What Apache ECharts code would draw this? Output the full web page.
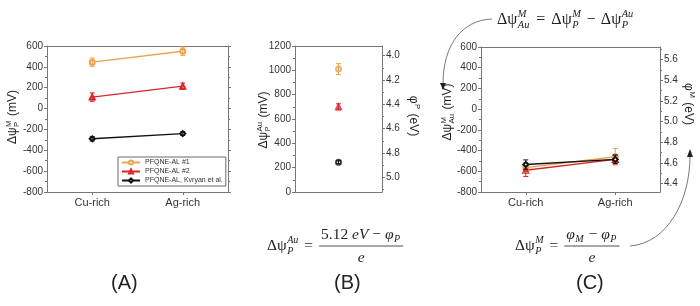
<!DOCTYPE html>
<html>
<head>
<meta charset="utf-8">
<script src="https://cdn.jsdelivr.net/npm/echarts@6/dist/echarts.min.js"></script>
<style>
  html, body { margin: 0; padding: 0; background: #fff; }
  #chart { width: 700px; height: 306px; }
</style>
</head>
<body>
<div id="chart"></div>
<script>
const categories = ['Cu-rich', 'Ag-rich']
const seriesNames = ['PFQNE-AL #1', 'PFQNE-AL #2', 'PFQNE-AL, Kvryan et al.']
const seriesColors = ['#eea24e', '#d8262c', '#111111']
const seriesSymbols = ['emptyCircle', 'emptyTriangle', 'emptyDiamond']

// (A) surface potential vs metal, mV
const psiPM = [[445, 550], [110, 215], [-290, -240]]
const psiPMErr = [[40, 40], [40, 30], [20, 18]]
// (B) surface potential vs Au, mV (one point per sample)
const psiPAu = [1010, 700, 245]
const psiPAuErr = [45, 25, 12]
// (C) metal vs Au, mV
const psiAuM = [[-565, -460], [-590, -485], [-535, -485]]
const psiAuMErr = [[50, 80], [60, 45], [45, 40]]

// right-hand work function axes (eV)
const phiPTicks = [4.0, 4.2, 4.4, 4.6, 4.8, 5.0]
const phiPMinor = [4.1, 4.3, 4.5, 4.7, 4.9, 5.1]
const phiMTicks = [4.4, 4.6, 4.8, 5.0, 5.2, 5.4, 5.6]
const phiMMinor = [4.5, 4.7, 4.9, 5.1, 5.3, 5.5, 5.7]

const fontSans = "'Liberation Sans', Arial, sans-serif"
const fontSerif = "'Liberation Serif', 'DejaVu Serif', serif"
const axLine = { color: '#777', width: 1 }
const tickLabel = { color: '#333', fontSize: 10, fontFamily: fontSans, margin: 4 }

const ctx = document.createElement('canvas').getContext('2d')
const measure = (t, f) => { ctx.font = f; return ctx.measureText(t).width }

function txt (t, x, y, font) {
  return {
    type: 'text', x, y, silent: true,
    style: { text: t, font, fill: '#222', align: 'left', verticalAlign: 'middle', textAlign: 'left', textVerticalAlign: 'middle' }
  }
}

// lays out text with stacked sub/superscripts on one row
function mathRow (parts, size, fam, scriptItalic) {
  const els = []
  let x = 0
  const ss = size * 0.65
  for (const p of parts) {
    if (typeof p === 'number') { x += p; continue }
    if (typeof p === 'string') {
      const f = `${size}px ${fam}`
      els.push(txt(p, x, 0, f)); x += measure(p, f); continue
    }
    if (p.it) {
      const f = `italic ${size}px ${fam}`
      els.push(txt(p.it, x, 0, f)); x += measure(p.it, f); continue
    }
    const f = `${scriptItalic ? 'italic ' : ''}${ss}px ${fam}`
    let w = 0
    if (p.sup) { els.push(txt(p.sup, x + 0.5, -size * 0.36, f)); w = Math.max(w, measure(p.sup, f)) }
    if (p.sub) { els.push(txt(p.sub, x + 0.5, size * 0.32, f)); w = Math.max(w, measure(p.sub, f)) }
    x += w + 1.5
  }
  return { els, width: x }
}

function axisTitle (cx, cy, rot, parts) {
  const r = mathRow(parts, 12, fontSans, false)
  r.els.forEach(e => { e.x -= r.width / 2 })
  return { type: 'group', x: cx, y: cy, rotation: rot, children: r.els }
}

function formula (x, y, left, num, den, size) {
  const els = []
  const L = mathRow(left, size, fontSerif, true)
  L.els.forEach(e => { e.x += x; e.y += y; els.push(e) })
  if (!num) return els
  const N = mathRow(num, size, fontSerif, true)
  const D = mathRow(den, size, fontSerif, true)
  const fw = Math.max(N.width, D.width) + 4
  const fx = x + L.width
  N.els.forEach(e => { e.x += fx + (fw - N.width) / 2; e.y += y - size * 0.74; els.push(e) })
  D.els.forEach(e => { e.x += fx + (fw - D.width) / 2; e.y += y + size * 0.78; els.push(e) })
  els.push({ type: 'line', silent: true, shape: { x1: fx, y1: y, x2: fx + fw, y2: y }, style: { stroke: '#222', lineWidth: 0.8 } })
  return els
}

function errorBar (color) {
  return function (params, api) {
    const x = api.value(0), y = api.value(1), e = api.value(2)
    const hi = api.coord([x, y + e]), lo = api.coord([x, y - e])
    const w = 2.5
    const style = { stroke: color, lineWidth: 1 }
    return {
      type: 'group',
      children: [
        { type: 'line', shape: { x1: hi[0], y1: hi[1], x2: lo[0], y2: lo[1] }, style },
        { type: 'line', shape: { x1: hi[0] - w, y1: hi[1], x2: hi[0] + w, y2: hi[1] }, style },
        { type: 'line', shape: { x1: lo[0] - w, y1: lo[1], x2: lo[0] + w, y2: lo[1] }, style }
      ]
    }
  }
}

const catAxis = (gridIndex, data, position, labels) => ({
  gridIndex, type: 'category', data, position, boundaryGap: true,
  axisLine: { show: true, onZero: false, lineStyle: axLine },
  axisTick: { show: labels, alignWithLabel: true, length: 3, lineStyle: axLine },
  axisLabel: { show: labels, color: '#333', fontSize: 11, fontFamily: fontSans, margin: 5 },
  splitLine: { show: false }
})

const valAxis = (gridIndex, position, min, max, interval, labels) => ({
  gridIndex, type: 'value', position, min, max, interval,
  axisLine: { show: true, onZero: false, lineStyle: axLine },
  axisTick: { show: true, length: 3, lineStyle: axLine },
  minorTick: { show: true, splitNumber: 2, length: 2, lineStyle: axLine },
  axisLabel: { show: labels, ...tickLabel, formatter: v => String(v) },
  splitLine: { show: false }
})

const customAxis = (gridIndex, min, max, inverse, ticks) => ({
  gridIndex, type: 'value', position: 'right', min, max, inverse,
  axisLine: { show: true, onZero: false, lineStyle: axLine },
  axisTick: { show: true, length: 3, lineStyle: axLine, customValues: ticks },
  axisLabel: { show: true, ...tickLabel, customValues: ticks, formatter: v => v.toFixed(1) },
  splitLine: { show: false }
})

const minorAxis = (gridIndex, min, max, inverse, ticks) => ({
  gridIndex, type: 'value', position: 'right', min, max, inverse,
  axisLine: { show: false, onZero: false },
  axisTick: { show: true, length: 2, lineStyle: axLine, customValues: ticks },
  axisLabel: { show: false },
  splitLine: { show: false }
})

const series = []
seriesNames.forEach((name, i) => {
  const color = seriesColors[i]
  // (A)
  series.push({
    name, type: 'line', xAxisIndex: 0, yAxisIndex: 0, data: psiPM[i],
    symbol: seriesSymbols[i], symbolSize: 5, z: 3,
    lineStyle: { color, width: 1.4 }, itemStyle: { color, borderWidth: 1.1 }
  })
  series.push({
    type: 'custom', xAxisIndex: 0, yAxisIndex: 0, z: 4, silent: true,
    data: categories.map((c, j) => [j, psiPM[i][j], psiPMErr[i][j]]),
    renderItem: errorBar(color)
  })
  // (B)
  series.push({
    name: 'B ' + name, type: 'scatter', xAxisIndex: 2, yAxisIndex: 2, data: [psiPAu[i]],
    symbol: i === 2 ? 'emptyCircle' : seriesSymbols[i], symbolSize: 5, z: 3,
    itemStyle: { color, borderWidth: i === 2 ? 1.6 : 1.1 }
  })
  series.push({
    type: 'custom', xAxisIndex: 2, yAxisIndex: 2, z: 4, silent: true,
    data: [[0, psiPAu[i], psiPAuErr[i]]],
    renderItem: errorBar(color)
  })
  // (C)
  series.push({
    name: 'C ' + name, type: 'line', xAxisIndex: 4, yAxisIndex: 5, data: psiAuM[i],
    symbol: seriesSymbols[i], symbolSize: 5, z: 3 + (i === 2 ? 1 : 0),
    lineStyle: { color, width: 1.4 }, itemStyle: { color, borderWidth: 1.1 }
  })
  series.push({
    type: 'custom', xAxisIndex: 4, yAxisIndex: 5, z: 4, silent: true,
    data: categories.map((c, j) => [j, psiAuM[i][j], psiAuMErr[i][j]]),
    renderItem: errorBar(color)
  })
})

const graphics = [
  axisTitle(13, 117, Math.PI / 2, ['Δψ', { sub: 'P', sup: 'M' }, ' (mV)']),
  axisTitle(264, 120, Math.PI / 2, ['Δψ', { sub: 'P', sup: 'Au' }, ' (mV)']),
  axisTitle(413, 116, -Math.PI / 2, ['φ', { sup: 'P' }, ' (eV)']),
  axisTitle(448, 112, Math.PI / 2, ['Δψ', { sub: 'Au', sup: 'M' }, ' (mV)']),
  axisTitle(688, 104, -Math.PI / 2, ['φ', { sup: 'M' }, ' (eV)']),
  ...formula(497, 20, ['Δψ', { sub: 'Au', sup: 'M' }, 6, '=', 6, 'Δψ', { sub: 'P', sup: 'M' }, 5, '−', 5, 'Δψ', { sub: 'P', sup: 'Au' }], null, null, 16),
  ...formula(267, 246, ['Δψ', { sub: 'P', sup: 'Au' }, 5, '=', 6],
    ['5.12 ', { it: 'eV' }, ' − ', { it: 'φ' }, { sub: 'P' }], [{ it: 'e' }], 15.5),
  ...formula(515, 246, ['Δψ', { sub: 'P', sup: 'M' }, 5, '=', 6],
    [{ it: 'φ' }, { sub: 'M' }, ' − ', { it: 'φ' }, { sub: 'P' }], [{ it: 'e' }], 15.5),
  { type: 'bezierCurve', silent: true, shape: { x1: 492, y1: 19, cpx1: 462, cpy1: 20, cpx2: 443, cpy2: 45, x2: 443, y2: 84 }, style: { stroke: '#555', lineWidth: 0.8, fill: null } },
  { type: 'polygon', silent: true, shape: { points: [[440, 83], [446, 83], [443, 90]] }, style: { fill: '#222' } },
  { type: 'bezierCurve', silent: true, shape: { x1: 630, y1: 246, cpx1: 668, cpy1: 243, cpx2: 690, cpy2: 200, x2: 690, y2: 156 }, style: { stroke: '#555', lineWidth: 0.8, fill: null } },
  { type: 'polygon', silent: true, shape: { points: [[687, 157], [693, 157], [690, 149]] }, style: { fill: '#222' } },
  txt('(A)', 111, 283, `20px ${fontSans}`),
  txt('(B)', 334, 283, `20px ${fontSans}`),
  txt('(C)', 576, 283, `20px ${fontSans}`)
]

const chart = echarts.init(document.getElementById('chart'), null, { renderer: 'canvas' })
chart.setOption({
  animation: false,
  backgroundColor: '#fff',
  grid: [
    { left: 47, top: 46, width: 181, height: 146 },
    { left: 295, top: 46, width: 87, height: 146 },
    { left: 481, top: 47, width: 179, height: 145 }
  ],
  xAxis: [
    catAxis(0, categories, 'bottom', true),
    catAxis(0, categories, 'top', false),
    catAxis(1, [''], 'bottom', false),
    catAxis(1, [''], 'top', false),
    catAxis(2, categories, 'bottom', true),
    catAxis(2, categories, 'top', false)
  ],
  yAxis: [
    valAxis(0, 'left', -800, 600, 200, true),
    valAxis(0, 'right', -800, 600, 200, false),
    valAxis(1, 'left', 0, 1200, 200, true),
    customAxis(1, 3.92, 5.12, true, phiPTicks),
    minorAxis(1, 3.92, 5.12, true, phiPMinor),
    valAxis(2, 'left', -800, 600, 200, true),
    customAxis(2, 4.32, 5.72, false, phiMTicks),
    minorAxis(2, 4.32, 5.72, false, phiMMinor)
  ],
  legend: {
    data: seriesNames, orient: 'vertical', left: 118, top: 157,
    itemWidth: 18, itemHeight: 5, itemGap: 2, padding: [2, 3, 2, 3],
    borderColor: '#444', borderWidth: 0.8, backgroundColor: '#fff',
    selectedMode: false,
    textStyle: { fontSize: 7, color: '#333', fontFamily: fontSans }
  },
  series,
  graphic: graphics
})
</script>
</body>
</html>
